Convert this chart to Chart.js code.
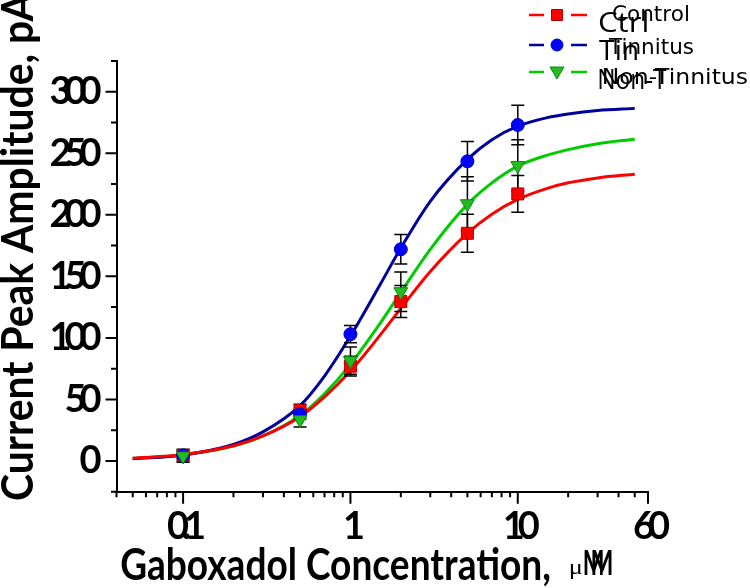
<!DOCTYPE html>
<html>
<head>
<meta charset="utf-8">
<script src="https://cdn.jsdelivr.net/npm/chart.js@4.4.1/dist/chart.umd.min.js"></script>
<style>
  body { margin: 0; background: #fff; }
  #wrap { width: 750px; height: 588px; position: relative; }
</style>
</head>
<body>
<div id="wrap"><canvas id="my-chart"></canvas></div>
<script>
'use strict';

let doses = [0.1, 0.5, 1, 2, 5, 10];
let ctrlMeans = [4.5, 41, 77, 129.5, 185, 217];
let tinMeans = [4.5, 38, 103, 172, 243.5, 273];
let nonMeans = [4, 33.5, 81.5, 137.5, 209, 240];
let ctrlErr = [5, 5, 8, 13, 15.5, 15];
let tinErr = [3, 4, 7, 12, 16, 16];
let nonErr = [5, 6, 11, 16, 22, 21];

// Fitted curves
let fitDoses = [0.05, 0.1, 0.2, 0.3, 0.5, 0.7, 1, 1.5, 2, 3, 5, 7, 10, 15, 20, 30, 50];
let ctrlFit = [2.1, 5.2, 12.4, 20.3, 36, 52, 73, 102, 124, 154, 185, 200.5, 212.5, 221.5, 226, 230, 233];
let tinFit = [1.7, 4.9, 13.4, 23.6, 45, 69, 101.5, 143, 173, 211, 245, 261, 272, 279, 282, 284.8, 286.5];
let nonFit = [1.9, 4.9, 12.1, 20.3, 37, 54.6, 78.5, 111.5, 137, 172, 208.5, 226, 239.6, 248.5, 253, 257.8, 261.5];

// Axis ticks
let xMajor = [0.1, 1, 10, 60];
let xLabels = ['0.1', '1', '10', '60'];
let xMinor = [0.04, 0.05, 0.06, 0.07, 0.08, 0.09, 0.2, 0.3, 0.4, 0.5, 0.6, 0.7, 0.8, 0.9,
  2, 3, 4, 5, 6, 7, 8, 9, 20, 30, 40, 50];
let yMajor = [0, 50, 100, 150, 200, 250, 300];
let yMinor = [-25, 25, 75, 125, 175, 225, 275, 325];

// Legend
let legendNames = ['Control', 'Tinnitus', 'Non-Tinnitus'];
let legendShort = ['Ctrl', 'Tin', 'Non-T'];

let lineColors = ['#ff0000', '#00009a', '#00cc00'];
let fillColors = ['#ff0000', '#0000ff', '#22bb22'];
let edgeColors = ['#b00000', '#0000c0', '#118811'];

function pts(xs, ys) {
  let out = [];
  for (let i = 0; i < xs.length; i++) {
    out.push({ x: xs[i], y: ys[i] });
  }
  return out;
}

function curve(data, i) {
  return {
    type: 'line',
    data: pts(fitDoses, data),
    borderColor: lineColors[i],
    borderWidth: 3,
    pointRadius: 0,
    tension: 0.4,
    cubicInterpolationMode: 'monotone',
    fill: false,
    order: 10
  };
}

function markers(data, i, style, radius, rotation, order) {
  return {
    type: 'line',
    data: pts(doses, data),
    showLine: false,
    pointStyle: style,
    pointRadius: radius,
    pointRotation: rotation,
    backgroundColor: fillColors[i],
    borderColor: edgeColors[i],
    borderWidth: 1,
    order: order
  };
}

// draw text with a given ink width (squeezed horizontally)
function fitText(ctx, text, x, y, font, w) {
  ctx.save();
  ctx.font = font;
  let m = ctx.measureText(text);
  let inkW = m.actualBoundingBoxLeft + m.actualBoundingBoxRight;
  let sx = w / inkW;
  ctx.translate(x, y);
  ctx.scale(sx, 1);
  ctx.textAlign = 'left';
  ctx.textBaseline = 'alphabetic';
  ctx.fillText(text, m.actualBoundingBoxLeft, 0);
  ctx.restore();
}

function drawMarker(ctx, kind, x, y, i) {
  ctx.save();
  ctx.fillStyle = fillColors[i];
  ctx.strokeStyle = edgeColors[i];
  ctx.lineWidth = 1;
  ctx.beginPath();
  if (kind === 'rect') {
    ctx.rect(x - 5.5, y - 5.5, 11, 11);
  } else if (kind === 'circle') {
    ctx.arc(x, y, 6, 0, Math.PI * 2);
  } else {
    ctx.moveTo(x - 7, y - 5);
    ctx.lineTo(x + 7, y - 5);
    ctx.lineTo(x, y + 7);
    ctx.closePath();
  }
  ctx.fill();
  ctx.stroke();
  ctx.restore();
}

let figurePlugin = {
  id: 'figureBits',
  beforeDraw(chart) {
    chart.ctx.letterSpacing = '0px';
  },
  afterDatasetDraw(chart, args) {
    // error bars go on top of the curves, under the markers
    if (args.index !== 0) {
      return;
    }
    let ctx = chart.ctx;
    let xs = chart.scales.x;
    let ys = chart.scales.y;
    let sets = [[ctrlMeans, ctrlErr], [tinMeans, tinErr], [nonMeans, nonErr]];
    ctx.save();
    ctx.strokeStyle = '#000';
    ctx.lineWidth = 1.5;
    for (let s = 0; s < sets.length; s++) {
      for (let i = 0; i < doses.length; i++) {
        let px = xs.getPixelForValue(doses[i]);
        let top = ys.getPixelForValue(sets[s][0][i] + sets[s][1][i]);
        let bot = ys.getPixelForValue(sets[s][0][i] - sets[s][1][i]);
        ctx.beginPath();
        ctx.moveTo(px, top);
        ctx.lineTo(px, bot);
        ctx.moveTo(px - 6.5, top);
        ctx.lineTo(px + 6.5, top);
        ctx.moveTo(px - 6.5, bot);
        ctx.lineTo(px + 6.5, bot);
        ctx.stroke();
      }
    }
    ctx.restore();
  },
  afterDatasetsDraw(chart) {
    // tick labels (z: 1) are drawn after this, squeezed like the original
    chart.ctx.letterSpacing = '-7px';
  },
  afterDraw(chart) {
    let ctx = chart.ctx;
    ctx.letterSpacing = '0px';
    let xs = chart.scales.x;
    let ys = chart.scales.y;
    let area = chart.chartArea;

    // tick marks
    ctx.save();
    ctx.strokeStyle = '#000';
    ctx.lineWidth = 2;
    ctx.beginPath();
    for (let v of xMajor) {
      let px = xs.getPixelForValue(v);
      ctx.moveTo(px, area.bottom);
      ctx.lineTo(px, area.bottom + 12);
    }
    for (let v of xMinor) {
      let px = xs.getPixelForValue(v);
      ctx.moveTo(px, area.bottom);
      ctx.lineTo(px, area.bottom + 5.5);
    }
    for (let v of yMajor) {
      let py = ys.getPixelForValue(v);
      ctx.moveTo(area.left, py);
      ctx.lineTo(area.left - 11, py);
    }
    for (let v of yMinor) {
      let py = ys.getPixelForValue(v);
      ctx.moveTo(area.left, py);
      ctx.lineTo(area.left - 5.5, py);
    }
    ctx.stroke();
    ctx.restore();

    // axis titles
    ctx.save();
    ctx.fillStyle = '#000';
    fitText(ctx, 'Gaboxadol Concentration,', 121, 580, 'bold 43px Lato', 429);
    fitText(ctx, '\u03bc', 570, 574, '22px "Liberation Serif"', 12);
    fitText(ctx, 'M', 584, 575, 'bold 34px Lato', 19);
    fitText(ctx, 'M', 592, 575, 'bold 34px Lato', 20);
    ctx.translate(33, 500);
    ctx.rotate(-Math.PI / 2);
    fitText(ctx, 'Current Peak Amplitude, pA', 0, 0, 'bold 43px Lato', 508);
    ctx.restore();

    // legend
    let rowsY = [15, 45, 72];
    let kinds = ['rect', 'circle', 'tri'];
    let nameX = [613, 608, 604];
    let nameW = [75, 85, 143];
    let nameBase = [20.5, 53.5, 83.5];
    let shortW = [48, 38, 68];
    let shortBase = [31.5, 60, 88.5];
    for (let i = 0; i < 3; i++) {
      ctx.save();
      ctx.strokeStyle = lineColors[i];
      ctx.lineWidth = 2.5;
      ctx.beginPath();
      ctx.moveTo(529, rowsY[i]);
      ctx.lineTo(544, rowsY[i]);
      ctx.moveTo(571, rowsY[i]);
      ctx.lineTo(587, rowsY[i]);
      ctx.stroke();
      ctx.restore();
      drawMarker(ctx, kinds[i], 557, rowsY[i], i);
      ctx.fillStyle = '#000';
      fitText(ctx, legendShort[i], 599, shortBase[i], '28px "Open Sans"', shortW[i]);
      fitText(ctx, legendNames[i], nameX[i], nameBase[i], '21px "DejaVu Sans"', nameW[i]);
    }
  }
};

let canvasElem = document.getElementById('my-chart');

let myObj = {
  data: {
    datasets: [
      curve(ctrlFit, 0),
      curve(tinFit, 1),
      curve(nonFit, 2),
      markers(ctrlMeans, 0, 'rect', 8.5, 0, 3),
      markers(tinMeans, 1, 'circle', 6.5, 0, 2),
      markers(nonMeans, 2, 'triangle', 8, 180, 1)
    ]
  },
  options: {
    responsive: true,
    maintainAspectRatio: false,
    animation: false,
    layout: { padding: { left: 0, right: 102, top: 61, bottom: 0 } },
    plugins: {
      legend: { display: false },
      tooltip: { enabled: false }
    },
    scales: {
      x: {
        type: 'logarithmic',
        position: 'bottom',
        min: 0.04,
        max: 60,
        grid: { display: false, drawTicks: false },
        border: { display: true, color: '#000', width: 2 },
        afterBuildTicks: (scale) => {
          scale.ticks = xMajor.map(v => ({ value: v }));
        },
        afterFit: (scale) => {
          scale.height = 96.3;
        },
        ticks: {
          z: 1,
          autoSkip: false,
          maxRotation: 0,
          padding: 12,
          color: '#000',
          font: { family: 'Lato', weight: 'bold', size: 38 },
          callback: (value, index) => xLabels[index]
        }
      },
      y: {
        type: 'linear',
        min: -25,
        max: 325,
        grid: { display: false, drawTicks: false },
        border: { display: true, color: '#000', width: 2 },
        afterBuildTicks: (scale) => {
          scale.ticks = yMajor.map(v => ({ value: v }));
        },
        afterFit: (scale) => {
          scale.width = 116.5;
        },
        ticks: {
          z: 1,
          autoSkip: false,
          padding: 22,
          color: '#000',
          font: { family: 'Lato', weight: 'bold', size: 38 },
          callback: (value) => String(value)
        }
      }
    }
  },
  plugins: [figurePlugin]
};

new Chart(canvasElem, myObj);
</script>
</body>
</html>
